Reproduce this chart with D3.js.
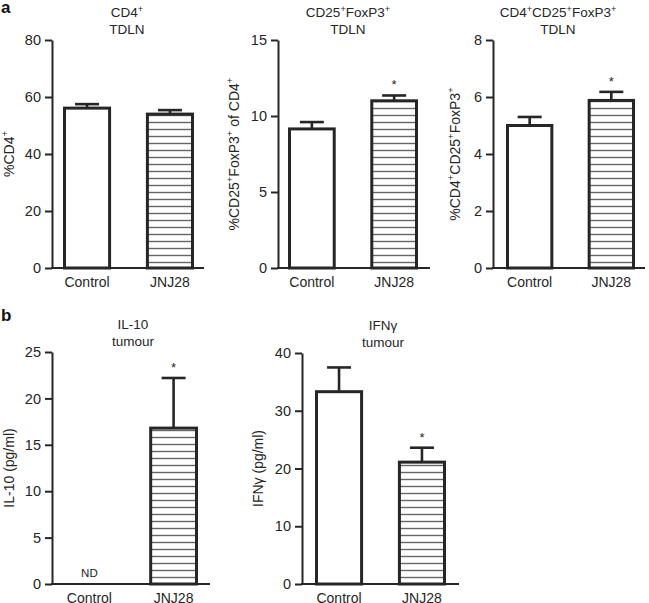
<!DOCTYPE html>
<html>
<head>
<meta charset="utf-8">
<script src="https://cdn.jsdelivr.net/npm/d3@7"></script>
<style>
  body { margin: 0; background: #fff; }
  svg { font-family: "Liberation Sans", Arial, Helvetica, sans-serif; }
</style>
</head>
<body>
<svg id="svg" width="649" height="603"></svg>
<script>
// data
const groups = ['Control', 'JNJ28'];

const cd4Means = [56.1, 54.0];
const cd4Errs = [1.4, 1.4];
const cd4Stars = [false, false];

const cd25Means = [9.15, 11.0];
const cd25Errs = [0.45, 0.35];
const cd25Stars = [false, true];

const tripleMeans = [5.0, 5.88];
const tripleErrs = [0.3, 0.3];
const tripleStars = [false, true];

const il10Means = [0, 16.8];
const il10Errs = [0, 5.4];
const il10Stars = [false, true];

const ifngMeans = [33.3, 21.1];
const ifngErrs = [4.2, 2.5];
const ifngStars = [false, true];

const svg = d3.select('#svg');
const ink = '#262626';

// hatch pattern for the JNJ28 bars
svg.append('defs').append('pattern')
  .attr('id', 'hatch')
  .attr('patternUnits', 'userSpaceOnUse')
  .attr('width', 8).attr('height', 7)
  .append('line')
  .attr('x1', 0).attr('x2', 8)
  .attr('y1', 3.5).attr('y2', 3.5)
  .attr('stroke', '#666')
  .attr('stroke-width', 1.4);

// writes text parts into a text element, raising the superscript ones
function richText(sel, parts, size) {
  let back = 0;
  parts.forEach(part => {
    const ts = sel.append('tspan').text(part.t);
    if (part.sup) {
      ts.attr('font-size', size * 0.68).attr('dy', -size * 0.4 + back);
      back = size * 0.4;
    } else {
      ts.attr('dy', back);
      back = 0;
    }
  });
}

function panel(opts) {
  const g = svg.append('g');
  const { axisX, top, bottom, xEnd, yMax, ticks, means, errs, stars, bandStart, bandEnd } = opts;

  const y = d3.scaleLinear().domain([0, yMax]).range([bottom, top]);
  const x = d3.scaleBand().domain(groups).range([bandStart, bandEnd]).paddingInner(0.42).paddingOuter(0);

  const data = groups.map((k, i) => ({ k, v: means[i], e: errs[i], star: stars[i], i }));

  // error bars (upper only)
  g.selectAll('.err').data(data.filter(d => d.e > 0)).enter().append('g').each(function (d) {
    const cx = x(d.k) + x.bandwidth() / 2;
    const s = d3.select(this);
    s.append('line').attr('x1', cx).attr('x2', cx)
      .attr('y1', y(d.v)).attr('y2', y(d.v + d.e))
      .attr('stroke', ink).attr('stroke-width', 2.6);
    s.append('line').attr('x1', cx - 12).attr('x2', cx + 12)
      .attr('y1', y(d.v + d.e)).attr('y2', y(d.v + d.e))
      .attr('stroke', ink).attr('stroke-width', 2.6);
  });

  g.selectAll('.bar').data(data.filter(d => d.v > 0)).enter().append('rect')
    .attr('x', d => x(d.k) + 1.5)
    .attr('y', d => y(d.v))
    .attr('width', x.bandwidth() - 3)
    .attr('height', d => y(0) - y(d.v))
    .attr('fill', d => d.i === 1 ? 'url(#hatch)' : '#fff')
    .attr('stroke', ink)
    .attr('stroke-width', 3);

  g.selectAll('.star').data(data.filter(d => d.star)).enter().append('text')
    .attr('x', d => x(d.k) + x.bandwidth() / 2)
    .attr('y', d => y(d.v + d.e) - 6)
    .attr('text-anchor', 'middle')
    .attr('font-size', 13)
    .attr('fill', ink)
    .text('*');

  // y axis
  const ax = g.append('g')
    .attr('transform', `translate(${axisX},0)`)
    .call(d3.axisLeft(y).tickValues(ticks).tickSize(7).tickSizeOuter(0).tickPadding(4));
  ax.select('.domain').attr('stroke', ink).attr('stroke-width', 2);
  ax.selectAll('.tick line').attr('stroke', ink).attr('stroke-width', 2);
  ax.selectAll('.tick text').attr('font-size', 14.5).attr('fill', ink).attr('font-family', 'inherit');

  // x axis line
  g.append('line').attr('x1', axisX - 1).attr('x2', xEnd)
    .attr('y1', bottom).attr('y2', bottom)
    .attr('stroke', ink).attr('stroke-width', 2);

  // group labels
  g.selectAll('.xl').data(groups).enter().append('text')
    .attr('x', d => x(d) + x.bandwidth() / 2)
    .attr('y', bottom + 18.5)
    .attr('text-anchor', 'middle')
    .attr('font-size', 14)
    .attr('fill', ink)
    .text(d => d);

  // title, two lines
  opts.title.forEach((line, i) => {
    const t = g.append('text')
      .attr('x', opts.titleX)
      .attr('y', top - 23 + i * 16.5)
      .attr('text-anchor', 'middle').attr('font-size', 13.5).attr('fill', ink);
    richText(t, line, 13.5);
  });

  // y label
  const yl = g.append('text')
    .attr('transform', `translate(${opts.ylabX},${(top + bottom) / 2}) rotate(-90)`)
    .attr('text-anchor', 'middle').attr('font-size', 14).attr('fill', ink);
  richText(yl, opts.ylab, 14);
  return { x, y, g };
}

const S = t => ({ t, sup: true });
const N = t => ({ t });

panel({
  axisX: 52, top: 40, bottom: 268, xEnd: 204, yMax: 80, ticks: [0, 20, 40, 60, 80],
  means: cd4Means, errs: cd4Errs, stars: cd4Stars, bandStart: 63, bandEnd: 194,
  title: [[N('CD4'), S('+')], [N('TDLN')]], titleX: 127,
  ylab: [N('%CD4'), S('+')], ylabX: 14
});

panel({
  axisX: 278, top: 40, bottom: 268, xEnd: 430, yMax: 15, ticks: [0, 5, 10, 15],
  means: cd25Means, errs: cd25Errs, stars: cd25Stars, bandStart: 288, bandEnd: 418,
  title: [[N('CD25'), S('+'), N('FoxP3'), S('+')], [N('TDLN')]], titleX: 348,
  ylab: [N('%CD25'), S('+'), N('FoxP3'), S('+'), N(' of CD4'), S('+')], ylabX: 239
});

panel({
  axisX: 493, top: 40, bottom: 268, xEnd: 645, yMax: 8, ticks: [0, 2, 4, 6, 8],
  means: tripleMeans, errs: tripleErrs, stars: tripleStars, bandStart: 506, bandEnd: 635,
  title: [[N('CD4'), S('+'), N('CD25'), S('+'), N('FoxP3'), S('+')], [N('TDLN')]], titleX: 558,
  ylab: [N('%CD4'), S('+'), N('CD25'), S('+'), N('FoxP3'), S('+')], ylabX: 460
});

const il = panel({
  axisX: 52, top: 352, bottom: 584, xEnd: 210, yMax: 25, ticks: [0, 5, 10, 15, 20, 25],
  means: il10Means, errs: il10Errs, stars: il10Stars, bandStart: 65, bandEnd: 198,
  title: [[N('IL-10')], [N('tumour')]], titleX: 133,
  ylab: [N('IL-10 (pg/ml)')], ylabX: 14
});
// not detected label for the control group
il.g.append('text')
  .attr('x', il.x('Control') + il.x.bandwidth() / 2)
  .attr('y', il.y(0) - 7)
  .attr('text-anchor', 'middle').attr('font-size', 11.5).attr('fill', ink)
  .text('ND');

panel({
  axisX: 302, top: 353, bottom: 584, xEnd: 459, yMax: 40, ticks: [0, 10, 20, 30, 40],
  means: ifngMeans, errs: ifngErrs, stars: ifngStars, bandStart: 315, bandEnd: 446,
  title: [[N('IFN\u03b3')], [N('tumour')]], titleX: 383,
  ylab: [N('IFN\u03b3 (pg/ml)')], ylabX: 263
});

// panel letters
svg.append('text').attr('x', 1).attr('y', 13).attr('font-size', 17).attr('font-weight', 'bold').attr('fill', '#111').text('a');
svg.append('text').attr('x', 1).attr('y', 321).attr('font-size', 17).attr('font-weight', 'bold').attr('fill', '#111').text('b');
</script>
</body>
</html>
